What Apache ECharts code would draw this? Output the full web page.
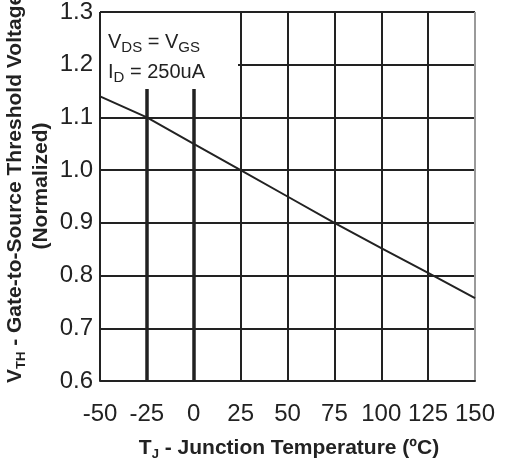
<!DOCTYPE html>
<html>
<head>
<meta charset="utf-8">
<script src="https://cdn.jsdelivr.net/npm/echarts@6/dist/echarts.min.js"></script>
<style>
  html, body { margin: 0; padding: 0; background: #fff; }
  #chart { width: 505px; height: 459px; }
</style>
</head>
<body>
<div id="chart"></div>
<script>
// data
var temps = [-50, -25, 0, 25, 50, 75, 100, 125, 150];
var vthNorm = [1.14, 1.10, 1.05, 1.0, 0.95, 0.90, 0.852, 0.805, 0.757];
var xTicks = { min: -50, max: 150, step: 25 };
var yTicks = { min: 0.6, max: 1.3, step: 0.1 };
var boldTemps = [-25, 0];

var font = "'Liberation Sans', Arial, sans-serif";
var ink = "#222";

var chart = echarts.init(document.getElementById("chart"));

var option = {
  backgroundColor: "#fff",
  animation: false,
  grid: { left: 100, right: 30, top: 10, bottom: 78 },
  xAxis: {
    type: "value",
    min: xTicks.min,
    max: xTicks.max,
    interval: xTicks.step,
    axisLine: { show: true, lineStyle: { color: ink, width: 2 } },
    axisTick: { show: false },
    axisLabel: { color: ink, fontSize: 24, fontFamily: font, margin: 21 },
    splitLine: {
      show: true,
      lineStyle: {
        color: [ink, ink, ink, ink, ink, ink, ink, ink, "#9a9a9a"],
        width: 2,
      },
    },
  },
  yAxis: {
    type: "value",
    min: yTicks.min,
    max: yTicks.max,
    interval: yTicks.step,
    axisLine: { show: true, lineStyle: { color: ink, width: 2 } },
    axisTick: { show: true, length: 3, lineStyle: { color: ink, width: 2 } },
    axisLabel: {
      color: ink,
      fontSize: 24,
      fontFamily: font,
      margin: 7,
      formatter: function (v) {
        return v.toFixed(1);
      },
    },
    splitLine: { show: true, lineStyle: { color: ink, width: 2 } },
  },
  series: [
    {
      type: "line",
      data: temps.map(function (t, i) {
        return [t, vthNorm[i]];
      }),
      symbol: "none",
      lineStyle: { color: ink, width: 2 },
      z: 3,
      markLine: {
        silent: true,
        symbol: "none",
        label: { show: false },
        lineStyle: { color: ink, width: 3.5, type: "solid" },
        data: boldTemps.map(function (t) {
          return { xAxis: t };
        }),
      },
    },
  ],
  graphic: [
    // blank patch behind the test conditions
    {
      type: "rect",
      z: 100,
      shape: { x: 101, y: 13, width: 137, height: 76 },
      style: { fill: "#fff" },
    },
    {
      type: "text",
      z: 101,
      x: 108,
      y: 42,
      style: {
        text: "{a|V}{s|DS}{a| = V}{s|GS}",
        verticalAlign: "middle",
        rich: {
          a: { fontSize: 20, fontFamily: font, fill: ink, lineHeight: 26, verticalAlign: "middle" },
          s: { fontSize: 15, fontFamily: font, fill: ink, lineHeight: 26, verticalAlign: "bottom" },
        },
      },
    },
    {
      type: "text",
      z: 101,
      x: 108,
      y: 72,
      style: {
        text: "{a|I}{s|D}{a| = 250uA}",
        verticalAlign: "middle",
        rich: {
          a: { fontSize: 20, fontFamily: font, fill: ink, lineHeight: 26, verticalAlign: "middle" },
          s: { fontSize: 15, fontFamily: font, fill: ink, lineHeight: 26, verticalAlign: "bottom" },
        },
      },
    },
    // y axis name, two lines
    {
      type: "text",
      x: 15,
      y: 383,
      rotation: Math.PI / 2,
      style: {
        text: "{b|V}{t|TH}{b| - Gate-to-Source Threshold Voltage}",
        align: "left",
        verticalAlign: "middle",
        rich: {
          b: { fontSize: 21, fontWeight: "bold", fontFamily: font, fill: ink, lineHeight: 26, verticalAlign: "middle" },
          t: { fontSize: 13, fontWeight: "bold", fontFamily: font, fill: ink, lineHeight: 26, verticalAlign: "bottom" },
        },
      },
    },
    {
      type: "text",
      x: 41,
      y: 186,
      rotation: Math.PI / 2,
      style: {
        text: "(Normalized)",
        align: "center",
        verticalAlign: "middle",
        fontSize: 21,
        fontWeight: "bold",
        fontFamily: font,
        fill: ink,
      },
    },
    // x axis name
    {
      type: "text",
      x: 289,
      y: 448,
      style: {
        text: "{b|T}{t|J}{b| - Junction Temperature (ºC)}",
        align: "center",
        verticalAlign: "middle",
        rich: {
          b: { fontSize: 21, fontWeight: "bold", fontFamily: font, fill: ink, lineHeight: 26, verticalAlign: "middle" },
          t: { fontSize: 13, fontWeight: "bold", fontFamily: font, fill: ink, lineHeight: 26, verticalAlign: "bottom" },
        },
      },
    },
  ],
};

chart.setOption(option);
</script>
</body>
</html>
